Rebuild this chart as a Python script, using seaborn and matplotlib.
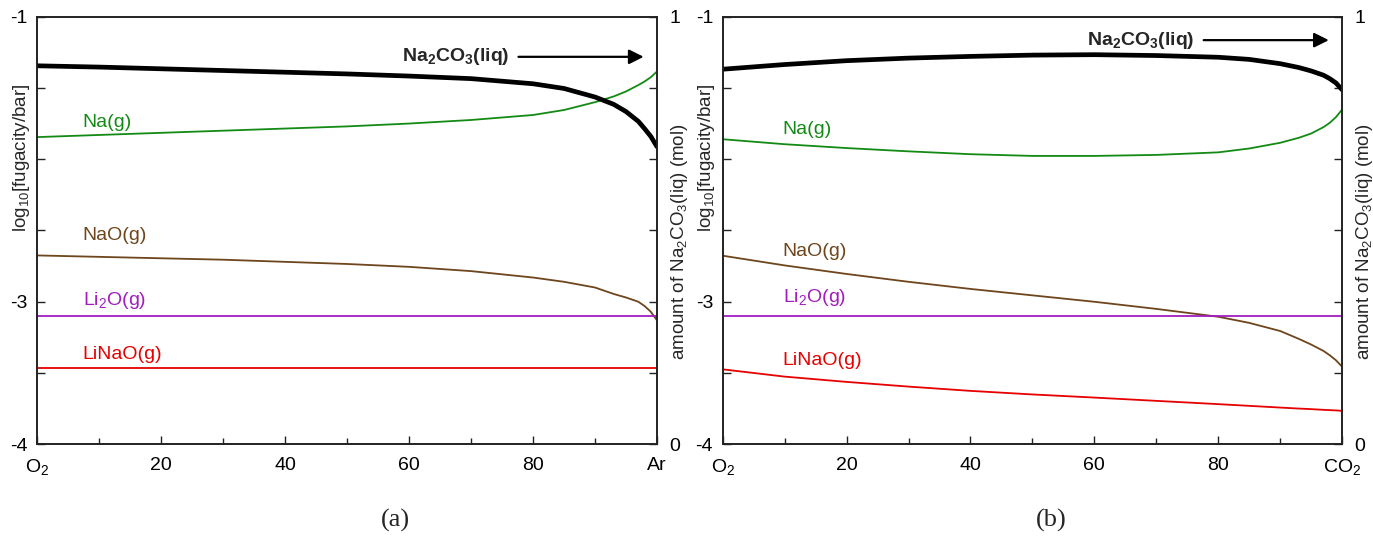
import numpy as np
import pandas as pd
import matplotlib
matplotlib.use("Agg")
import matplotlib.pyplot as plt
import seaborn as sns

sns.set_style("ticks")
plt.rcParams['font.family'] = ['Liberation Sans', 'DejaVu Sans']
plt.rcParams['mathtext.fontset'] = 'custom'
plt.rcParams['mathtext.rm'] = 'Liberation Sans'
plt.rcParams['mathtext.it'] = 'Liberation Sans:italic'
plt.rcParams['mathtext.bf'] = 'Liberation Sans:bold'

# composition, % of the second gas (O2 -> Ar, O2 -> CO2)
x_pct = [0, 10, 20, 30, 40, 50, 60, 70, 80, 85, 90, 93, 95, 97, 98, 99, 100]

# panel (a): O2 - Ar
na2co3_a = [0.885, 0.882, 0.878, 0.874, 0.870, 0.866, 0.861, 0.855, 0.843, 0.832,
            0.812, 0.795, 0.778, 0.755, 0.738, 0.720, 0.696]
na_a = [-1.845, -1.83, -1.815, -1.80, -1.785, -1.77, -1.75, -1.725, -1.69, -1.655,
        -1.60, -1.56, -1.525, -1.48, -1.455, -1.425, -1.385]
nao_a = [-2.675, -2.685, -2.695, -2.705, -2.72, -2.735, -2.755, -2.785, -2.83, -2.86,
         -2.90, -2.945, -2.97, -3.00, -3.03, -3.07, -3.13]
li2o_a = [-3.098] * len(x_pct)
linao_a = [-3.463] * len(x_pct)

# panel (b): O2 - CO2
na2co3_b = [0.877, 0.888, 0.897, 0.903, 0.907, 0.910, 0.911, 0.909, 0.905, 0.900,
            0.890, 0.881, 0.873, 0.863, 0.855, 0.845, 0.829]
na_b = [-1.86, -1.895, -1.922, -1.945, -1.965, -1.977, -1.977, -1.97, -1.952, -1.925,
        -1.885, -1.85, -1.82, -1.775, -1.745, -1.705, -1.652]
nao_b = [-2.677, -2.745, -2.805, -2.86, -2.91, -2.955, -3.00, -3.05, -3.105, -3.148,
         -3.205, -3.26, -3.30, -3.345, -3.375, -3.41, -3.455]
li2o_b = [-3.10] * len(x_pct)
linao_b = [-3.474, -3.525, -3.562, -3.595, -3.625, -3.65, -3.672, -3.695, -3.718, -3.73,
           -3.742, -3.749, -3.753, -3.758, -3.76, -3.762, -3.765]

species = ["Na(g)", "NaO(g)", "Li$_2$O(g)", "LiNaO(g)"]
colors = ["#138a13", "#6e451c", "#a21cc0", "#e60000"]
x_labels_a = ["O$_2$", "20", "40", "60", "80", "Ar"]
x_labels_b = ["O$_2$", "20", "40", "60", "80", "CO$_2$"]

# label positions (x, log value) per panel
label_pos_a = [(7.3, -1.745), (7.3, -2.535), (7.3, -2.99), (7.3, -3.37)]
label_pos_b = [(9.7, -1.79), (9.7, -2.65), (9.7, -2.97), (9.7, -3.41)]

fig = plt.figure(figsize=(13.73, 5.36), dpi=100)
ax_a = fig.add_axes([0.0272, 0.171, 0.4513, 0.798])
ax_b = fig.add_axes([0.5264, 0.171, 0.4511, 0.798])

panels = [
    (ax_a, [na_a, nao_a, li2o_a, linao_a], na2co3_a, x_labels_a, label_pos_a, "(a)", 0.288, 0.906),
    (ax_b, [na_b, nao_b, li2o_b, linao_b], na2co3_b, x_labels_b, label_pos_b, "(b)", 0.766, 0.945),
]

for ax, series, liq, xlabs, lpos, cap, capx, yarr in panels:
    for name, vals, col, (lx, ly) in zip(species, series, colors, lpos):
        sns.lineplot(x=x_pct, y=vals, ax=ax, color=col, linewidth=1.3)
        ax.text(lx, ly, name, color=col, fontsize=14, va="center", ha="left")
    ax.set_xlim(0, 100)
    ax.set_ylim(-4, -1)
    ax.set_xticks([0, 20, 40, 60, 80, 100])
    ax.set_xticklabels(xlabs, fontsize=14)
    ax.set_xticks([10, 30, 50, 70, 90], minor=True)
    yt = np.arange(-4, -0.99, 0.5)
    ax.set_yticks(yt)
    ax.set_yticklabels(["-4", "", "-3", "", "", "", "-1"], fontsize=14)
    ax.tick_params(direction="in", length=6, width=1, pad=7, colors="#222222", labelcolor="black")
    ax.tick_params(axis="x", pad=9)
    ax.tick_params(which="minor", direction="in", length=4, width=1, colors="#222222")
    ax.set_ylabel("log$_{10}$[fugacity/bar]", fontsize=13.5)
    ax.yaxis.set_label_coords(-0.009, 0.67)
    ax.set_xlabel("")
    for sp in ax.spines.values():
        sp.set_visible(True)
        sp.set_linewidth(1.2)
        sp.set_color("#222222")

    ax2 = ax.twinx()
    sns.lineplot(x=x_pct, y=liq, ax=ax2, color="black", linewidth=3.4)
    ax2.set_ylim(0, 1)
    ax2.set_yticks(np.linspace(0, 1, 7))
    ax2.set_yticklabels(["0", "", "", "", "", "", "1"], fontsize=14)
    ax2.tick_params(direction="in", length=6, width=1, pad=9, colors="#222222", labelcolor="black")
    ax2.set_ylabel("amount of Na$_2$CO$_3$(liq) (mol)", fontsize=13.5)
    ax2.yaxis.set_label_coords(1.02, 0.475)
    for sp in ax2.spines.values():
        sp.set_linewidth(1.2)
        sp.set_color("#222222")

    ax2.text(67.5, yarr, r"Na$_\mathbf{2}$CO$_\mathbf{3}$(liq)",
             fontsize=14, fontweight="bold", ha="center", va="center")
    ax2.annotate("", xy=(98.3, yarr), xytext=(77.2, yarr),
                 arrowprops=dict(arrowstyle="-|>", color="black", lw=1.6, mutation_scale=22))

    fig.text(capx, 0.018, cap, fontsize=19, family="Liberation Serif", ha="center")

plt.savefig("out.png", dpi=100)
